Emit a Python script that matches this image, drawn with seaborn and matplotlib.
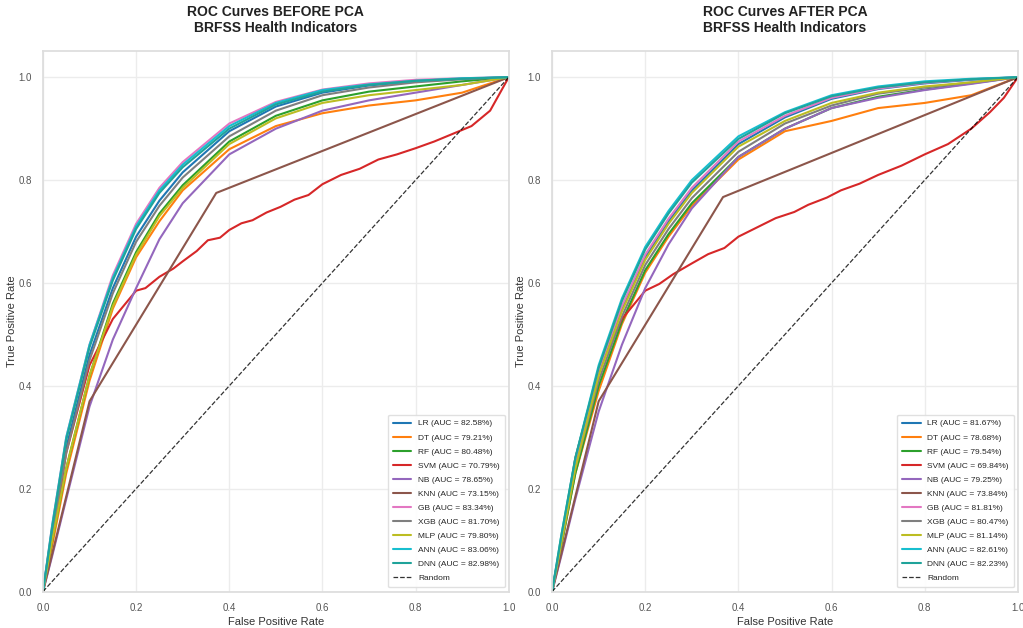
import matplotlib
matplotlib.use("Agg")
import matplotlib.pyplot as plt
import seaborn as sns

# ---------------- data ----------------
MODELS = ["LR", "DT", "RF", "SVM", "NB", "KNN", "GB", "XGB", "MLP", "ANN", "DNN"]
AUC_BEFORE = [82.58, 79.21, 80.48, 70.79, 78.65, 73.15, 83.34, 81.70, 79.80, 83.06, 82.98]
AUC_AFTER = [81.67, 78.68, 79.54, 69.84, 79.25, 73.84, 81.81, 80.47, 81.14, 82.61, 82.23]
COLORS = ["#1f77b4", "#ff7f0e", "#2ca02c", "#d62728", "#9467bd", "#8c564b",
          "#e377c2", "#7f7f7f", "#bcbd22", "#17becf", "#1fa39a"]

FPR_GRID = [0, .02, .05, .1, .15, .2, .25, .3, .4, .5, .6, .7, .8, .9, 1]

# BEFORE PCA (TPR on FPR_GRID)
LR_B = [0, .12, .28, .46, .59, .69, .76, .815, .895, .943, .97, .984, .992, .997, 1]
DT_B = [0, .09, .23, .41, .55, .65, .72, .78, .86, .905, .93, .945, .955, .97, 1]
RF_B = [0, .10, .24, .42, .56, .66, .735, .79, .875, .925, .955, .972, .982, .992, 1]
NB_B = [0, .07, .18, .36, .49, .59, .685, .755, .85, .90, .935, .955, .97, .985, 1]
GB_B = [0, .13, .30, .48, .615, .715, .785, .835, .91, .952, .976, .988, .995, .998, 1]
XGB_B = [0, .11, .27, .45, .58, .68, .75, .805, .885, .935, .965, .98, .99, .996, 1]
MLP_B = [0, .10, .24, .42, .555, .655, .73, .785, .87, .92, .95, .965, .975, .985, 1]
ANN_B = [0, .13, .30, .48, .61, .71, .78, .83, .905, .95, .975, .986, .993, .998, 1]
DNN_B = [0, .125, .295, .475, .605, .705, .775, .825, .90, .947, .972, .985, .993, .997, 1]
KNN_B_FPR = [0, .10, .372, 1]
KNN_B_TPR = [0, .37, .775, 1]
SVM_B_FPR = [0, .02, .05, .1, .15, .2, .22, .25, .28, .3, .33, .354, .38, .40, .426,
             .45, .48, .51, .54, .57, .60, .64, .68, .72, .76, .80, .84, .88, .92, .96, 1]
SVM_B_TPR = [0, .10, .27, .44, .53, .585, .59, .612, .628, .642, .662, .683, .688, .703, .716,
             .722, .737, .748, .762, .771, .792, .81, .822, .84, .85, .862, .875, .89, .905, .935, 1]

# AFTER PCA (TPR on FPR_GRID)
LR_A = [0, .10, .25, .425, .55, .65, .72, .78, .87, .922, .958, .977, .988, .995, 1]
DT_A = [0, .09, .23, .39, .52, .62, .69, .75, .84, .895, .915, .94, .95, .965, 1]
RF_A = [0, .09, .23, .40, .525, .625, .695, .755, .845, .90, .94, .962, .976, .988, 1]
NB_A = [0, .07, .18, .35, .48, .59, .675, .745, .845, .90, .94, .96, .975, .987, 1]
GB_A = [0, .10, .25, .43, .555, .655, .725, .785, .875, .925, .96, .978, .989, .996, 1]
XGB_A = [0, .095, .24, .41, .535, .635, .705, .765, .855, .91, .945, .968, .98, .99, 1]
MLP_A = [0, .095, .24, .42, .545, .645, .715, .775, .865, .915, .95, .97, .982, .99, 1]
ANN_A = [0, .11, .26, .44, .57, .67, .74, .80, .885, .932, .965, .982, .992, .997, 1]
DNN_A = [0, .11, .26, .435, .565, .665, .735, .795, .88, .93, .963, .98, .99, .996, 1]
KNN_A_FPR = [0, .10, .367, 1]
KNN_A_TPR = [0, .37, .767, 1]
SVM_A_FPR = [0, .02, .05, .1, .15, .2, .23, .26, .3, .335, .37, .4, .44, .48, .52, .55,
             .59, .62, .66, .70, .75, .80, .85, .90, .94, .97, 1]
SVM_A_TPR = [0, .10, .26, .43, .53, .585, .598, .617, .638, .656, .668, .69, .708, .726, .738, .752,
             .766, .78, .793, .81, .828, .85, .87, .90, .932, .96, 1]

BEFORE = {
    "LR": (FPR_GRID, LR_B), "DT": (FPR_GRID, DT_B), "RF": (FPR_GRID, RF_B),
    "SVM": (SVM_B_FPR, SVM_B_TPR), "NB": (FPR_GRID, NB_B), "KNN": (KNN_B_FPR, KNN_B_TPR),
    "GB": (FPR_GRID, GB_B), "XGB": (FPR_GRID, XGB_B), "MLP": (FPR_GRID, MLP_B),
    "ANN": (FPR_GRID, ANN_B), "DNN": (FPR_GRID, DNN_B),
}
AFTER = {
    "LR": (FPR_GRID, LR_A), "DT": (FPR_GRID, DT_A), "RF": (FPR_GRID, RF_A),
    "SVM": (SVM_A_FPR, SVM_A_TPR), "NB": (FPR_GRID, NB_A), "KNN": (KNN_A_FPR, KNN_A_TPR),
    "GB": (FPR_GRID, GB_A), "XGB": (FPR_GRID, XGB_A), "MLP": (FPR_GRID, MLP_A),
    "ANN": (FPR_GRID, ANN_A), "DNN": (FPR_GRID, DNN_A),
}

# ---------------- plot ----------------
sns.set_theme(style="whitegrid")
plt.rcParams["font.family"] = ["Liberation Sans", "DejaVu Sans"]
plt.rcParams["grid.color"] = "#ececec"
plt.rcParams["axes.edgecolor"] = "#dddddd"

fig, axes = plt.subplots(1, 2, figsize=(10.23, 6.28), dpi=100)
fig.subplots_adjust(left=0.042, right=0.995, bottom=0.058, top=0.918, wspace=0.093)

panels = [(axes[0], BEFORE, AUC_BEFORE, "ROC Curves BEFORE PCA\nBRFSS Health Indicators"),
          (axes[1], AFTER, AUC_AFTER, "ROC Curves AFTER PCA\nBRFSS Health Indicators")]

for ax, data, aucs, title in panels:
    for name, auc, col in zip(MODELS, aucs, COLORS):
        fx, ty = data[name]
        sns.lineplot(x=fx, y=ty, ax=ax, color=col, linewidth=1.5, sort=False,
                     estimator=None, label=f"{name} (AUC = {auc:.2f}%)")
    sns.lineplot(x=[0, 1], y=[0, 1], ax=ax, color="black", linestyle="--", linewidth=0.9,
                 alpha=0.8, label="Random")
    ax.set_xlim(0, 1)
    ax.set_ylim(0, 1.05)
    ax.set_xticks([0, 0.2, 0.4, 0.6, 0.8, 1.0])
    ax.set_yticks([0, 0.2, 0.4, 0.6, 0.8, 1.0])
    ax.tick_params(labelsize=7, colors="#555555", pad=2)
    ax.set_xlabel("False Positive Rate", fontsize=8, color="#333333", labelpad=3)
    ax.set_ylabel("True Positive Rate", fontsize=8, color="#333333", labelpad=1)
    ax.set_title(title, fontsize=10, fontweight="bold", color="#222222", pad=14)
    leg = ax.legend(loc="lower right", fontsize=6, frameon=True, framealpha=0.9,
                    handlelength=2.2, labelspacing=0.75, borderpad=0.6)
    leg.get_frame().set_edgecolor("#dddddd")

fig.savefig("out.png", dpi=100)
